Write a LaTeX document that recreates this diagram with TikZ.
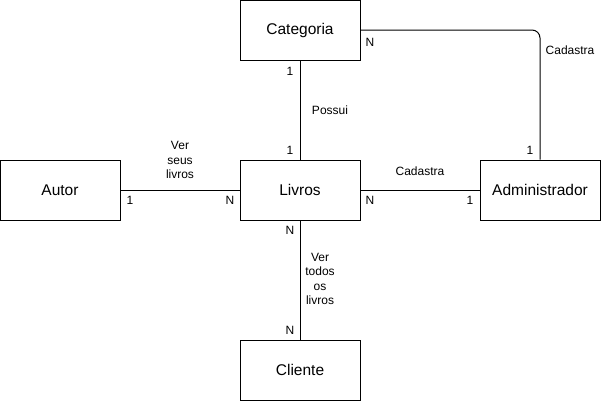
\documentclass[tikz,border=0pt]{standalone}
\usepackage{fontspec}
\setmainfont{Liberation Sans}
\begin{document}
\begin{tikzpicture}[x=1pt,y=-1pt,
  entity/.style={draw,line width=1pt,minimum width=120pt,minimum height=60pt,inner sep=0pt,font=\fontsize{15.5}{18}\selectfont},
  lbl/.style={font=\fontsize{12}{14.5}\selectfont,inner sep=0pt,align=center},
  conn/.style={line width=1pt}]
\useasboundingbox (0,0) rectangle (601,402);
\node[entity] (cat) at (300,30) {Categoria};
\node[entity] (liv) at (300,190) {Livros};
\node[entity] (aut) at (60,190) {Autor};
\node[entity] (adm) at (540,190) {Administrador};
\node[entity] (cli) at (300,370) {Cliente};
\draw[conn] (cat) -- (liv);
\draw[conn] (aut) -- (liv);
\draw[conn] (liv) -- (adm);
\draw[conn] (liv) -- (cli);
\draw[conn,rounded corners=8pt] (cat.east) -| (adm.north);
\node[lbl] (l1) at (370,42) {N};
\node[lbl] (l2) at (570,50) {Cadastra};
\node[lbl] (l3) at (290,71) {1};
\node[lbl] (l4) at (330,110) {Possui};
\node[lbl] (l5) at (290,150) {1};
\node[lbl] (l6) at (180,160) {Ver\\seus\\livros};
\node[lbl] (l7) at (130,200) {1};
\node[lbl] (l8) at (230,200) {N};
\node[lbl] (l9) at (420,171) {Cadastra};
\node[lbl] (l10) at (370,200) {N};
\node[lbl] (l11) at (470,200) {1};
\node[lbl] (l12) at (530,150) {1};
\node[lbl] (l13) at (290,230) {N};
\node[lbl] (l14) at (320,279) {Ver\\todos\\os\\livros};
\node[lbl] (l15) at (290,330) {N};
\end{tikzpicture}
\end{document}
